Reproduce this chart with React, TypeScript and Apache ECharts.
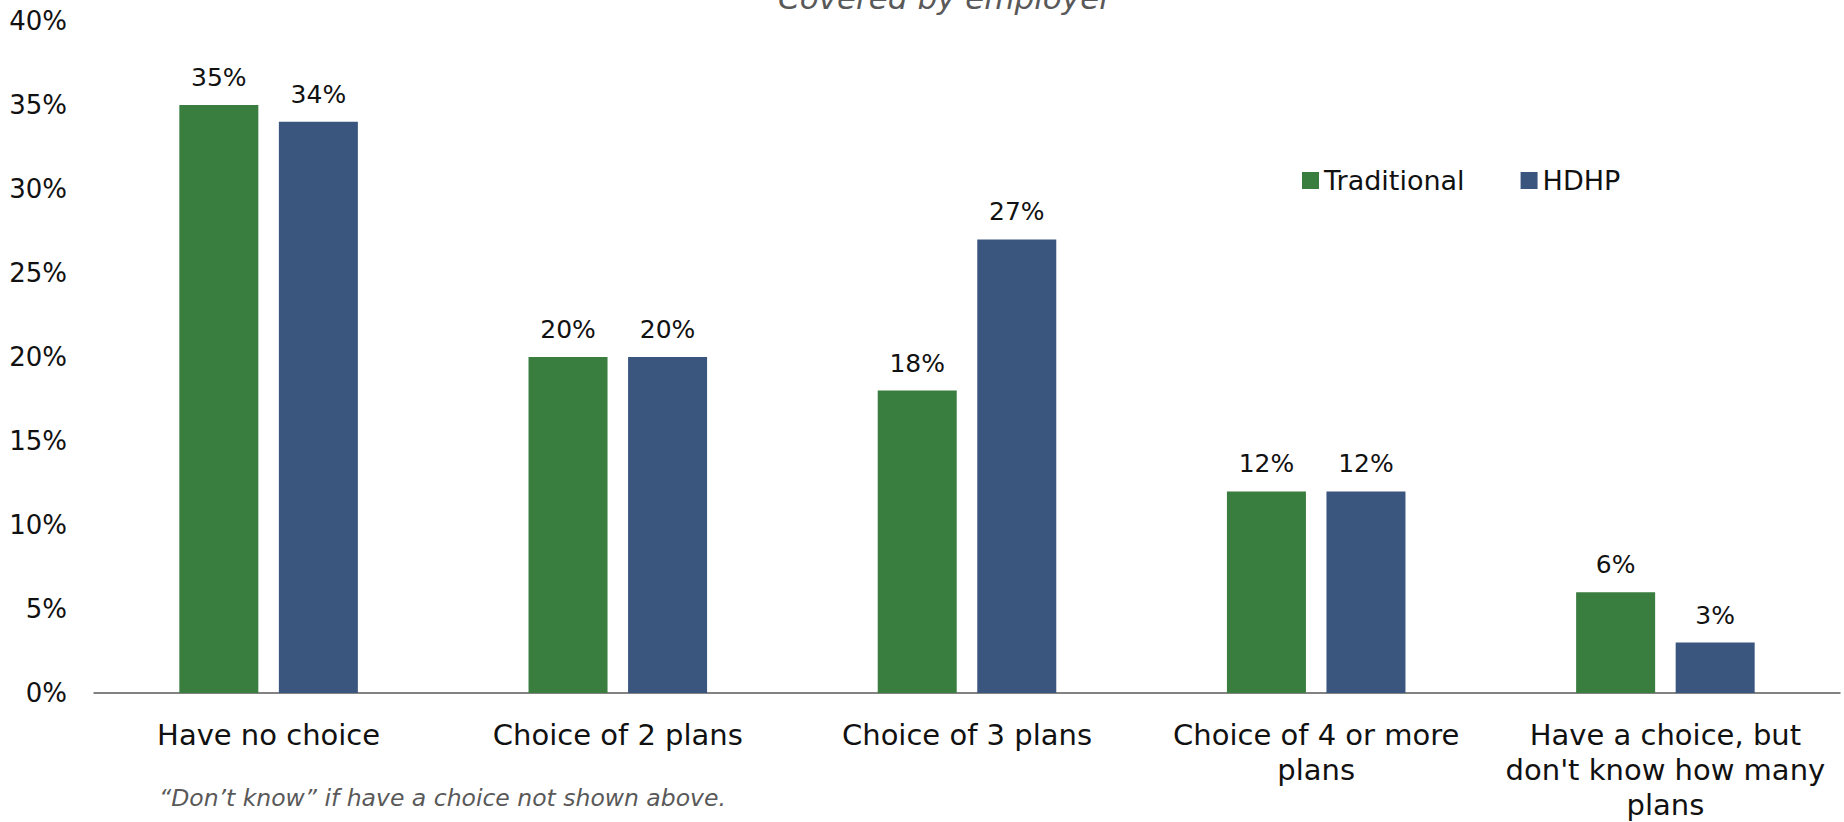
import React, { useEffect, useRef } from "react";
import * as echarts from "echarts";

const categories = [
  "Have no choice",
  "Choice of 2 plans",
  "Choice of 3 plans",
  "Choice of 4 or more\nplans",
  "Have a choice, but\ndon't know how many\nplans",
];
const traditional = [35, 20, 18, 12, 6];
const hdhp = [34, 20, 27, 12, 3];
const seriesNames = ["Traditional", "HDHP"];
const titleText = "Covered by employer";
const footnote = "\u201cDon\u2019t know\u201d if have a choice not shown above.";

const FONT = "'DejaVu Sans', sans-serif";

export default function App() {
  const ref = useRef<HTMLDivElement>(null);
  useEffect(() => {
    document.body.style.margin = "0";
    const chart = echarts.init(ref.current!, null, { renderer: "svg" });
    const label = {
      show: true,
      position: "top",
      distance: 15,
      formatter: "{c}%",
      fontSize: 25,
      color: "#111",
      fontFamily: FONT,
    };
    chart.setOption({
      animation: false,
      textStyle: { fontFamily: FONT },
      grid: { left: 94, right: 4, top: 21, bottom: 125, containLabel: false },
      legend: {
        data: seriesNames,
        left: 1297,
        top: 162,
        itemWidth: 17,
        itemHeight: 17,
        itemGap: 56,
        icon: "rect",
        textStyle: { fontSize: 27, color: "#111", fontFamily: FONT },
      },
      xAxis: {
        type: "category",
        data: categories,
        axisLine: { lineStyle: { color: "#595959", width: 1.5 } },
        axisTick: { show: false },
        axisLabel: {
          fontSize: 29,
          color: "#111",
          lineHeight: 35,
          margin: 24,
          interval: 0,
          fontFamily: FONT,
        },
      },
      yAxis: {
        type: "value",
        min: 0,
        max: 40,
        interval: 5,
        splitLine: { show: false },
        axisLine: { show: false },
        axisTick: { show: false },
        axisLabel: {
          formatter: "{value}%",
          fontSize: 26,
          color: "#111",
          margin: 27,
          fontFamily: FONT,
        },
      },
      series: [
        {
          name: seriesNames[0],
          type: "bar",
          data: traditional,
          itemStyle: { color: "#397D3F" },
          barWidth: 79,
          barGap: "26%",
          label,
        },
        {
          name: seriesNames[1],
          type: "bar",
          data: hdhp,
          itemStyle: { color: "#3A557E" },
          barWidth: 79,
          label,
        },
      ],
      graphic: [
        {
          type: "text",
          left: 778,
          top: -18,
          style: {
            text: titleText,
            fontSize: 31,
            fontStyle: "italic",
            fill: "#595959",
            fontFamily: FONT,
          },
        },
        {
          type: "text",
          left: 159,
          top: 786,
          style: {
            text: footnote,
            fontSize: 23.5,
            fontStyle: "italic",
            fill: "#595959",
            fontFamily: FONT,
          },
        },
      ],
    });
    return () => chart.dispose();
  }, []);
  return <div ref={ref} style={{ width: 1844, height: 822 }} />;
}
